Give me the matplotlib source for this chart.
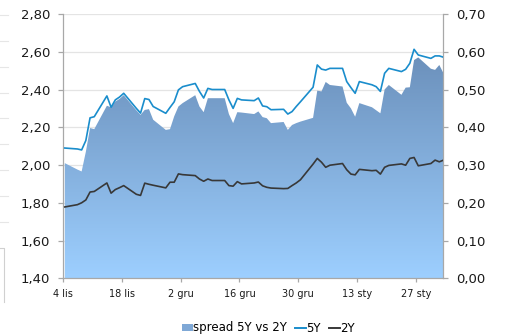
import matplotlib
matplotlib.use("Agg")
import matplotlib.pyplot as plt
import matplotlib.dates as mdates
import numpy as np
import pandas as pd
from matplotlib.colors import LinearSegmentedColormap
from matplotlib.lines import Line2D
from matplotlib.patches import Patch

# Quotation dates (working days, Nov 2016 - Feb 2017)
dates = [
    "2016-11-04", "2016-11-07", "2016-11-08", "2016-11-09", "2016-11-10", "2016-11-11",
    "2016-11-14", "2016-11-15", "2016-11-16", "2016-11-17", "2016-11-18",
    "2016-11-21", "2016-11-22", "2016-11-23", "2016-11-24", "2016-11-25",
    "2016-11-28", "2016-11-29", "2016-11-30", "2016-12-01", "2016-12-02",
    "2016-12-05", "2016-12-06", "2016-12-07", "2016-12-08", "2016-12-09",
    "2016-12-12", "2016-12-13", "2016-12-14", "2016-12-15", "2016-12-16",
    "2016-12-19", "2016-12-20", "2016-12-21", "2016-12-22", "2016-12-23",
    "2016-12-26", "2016-12-27", "2016-12-28", "2016-12-29", "2016-12-30",
    "2017-01-02", "2017-01-03", "2017-01-04", "2017-01-05", "2017-01-06",
    "2017-01-09", "2017-01-10", "2017-01-11", "2017-01-12", "2017-01-13",
    "2017-01-16", "2017-01-17", "2017-01-18", "2017-01-19", "2017-01-20",
    "2017-01-23", "2017-01-24", "2017-01-25", "2017-01-26", "2017-01-27",
    "2017-01-30", "2017-01-31", "2017-02-01", "2017-02-02",
]

# 5Y yield (left axis)
yield_5y = [
    2.090, 2.085, 2.080, 2.130, 2.250, 2.256,
    2.366, 2.306, 2.345, 2.360, 2.380,
    2.300, 2.275, 2.352, 2.347, 2.310,
    2.274, 2.305, 2.335, 2.398, 2.415,
    2.432, 2.390, 2.355, 2.406, 2.400,
    2.400, 2.345, 2.300, 2.353, 2.345,
    2.341, 2.355, 2.313, 2.309, 2.293,
    2.295, 2.270, 2.283, 2.310, 2.335,
    2.412, 2.530, 2.508, 2.503, 2.512,
    2.512, 2.442, 2.410, 2.380, 2.442,
    2.425, 2.415, 2.390, 2.486, 2.512,
    2.495, 2.507, 2.539, 2.613, 2.583,
    2.565, 2.578, 2.578, 2.571,
]

# 2Y yield (left axis)
yield_2y = [
    1.778, 1.790, 1.800, 1.815, 1.857, 1.860,
    1.905, 1.851, 1.870, 1.880, 1.891,
    1.845, 1.839, 1.904, 1.898, 1.893,
    1.879, 1.909, 1.909, 1.953, 1.949,
    1.944, 1.926, 1.914, 1.926, 1.918,
    1.918, 1.891, 1.888, 1.912, 1.900,
    1.905, 1.910, 1.890, 1.882, 1.878,
    1.875, 1.876, 1.891, 1.905, 1.922,
    2.005, 2.035, 2.015, 1.988, 1.999,
    2.008, 1.975, 1.952, 1.948, 1.977,
    1.970, 1.972, 1.952, 1.988, 1.998,
    2.006, 1.999, 2.035, 2.040, 1.996,
    2.008, 2.026, 2.017, 2.026,
]

# Spread 5Y vs 2Y (right axis)
spread = [
    0.305, 0.288, 0.283, 0.335, 0.398, 0.395,
    0.457, 0.453, 0.468, 0.475, 0.485,
    0.445, 0.433, 0.446, 0.448, 0.420,
    0.393, 0.395, 0.429, 0.455, 0.464,
    0.485, 0.455, 0.440, 0.477, 0.477,
    0.477, 0.435, 0.411, 0.440, 0.439,
    0.435, 0.442, 0.427, 0.424, 0.411,
    0.414, 0.393, 0.406, 0.411, 0.415,
    0.425, 0.497, 0.495, 0.520, 0.512,
    0.508, 0.465, 0.450, 0.428, 0.464,
    0.453, 0.445, 0.437, 0.500, 0.512,
    0.486, 0.505, 0.506, 0.578, 0.585,
    0.555, 0.552, 0.565, 0.543,
]

tick_dates = ["2016-11-04", "2016-11-18", "2016-12-02", "2016-12-16",
              "2016-12-30", "2017-01-13", "2017-01-27"]
tick_labels = ["4 lis", "18 lis", "2 gru", "16 gru", "30 gru", "13 sty", "27 sty"]
left_ticks = [1.40, 1.60, 1.80, 2.00, 2.20, 2.40, 2.60, 2.80]
right_ticks = [0.00, 0.10, 0.20, 0.30, 0.40, 0.50, 0.60, 0.70]

plt.rcParams["font.family"] = ["DejaVu Sans"]

W, H = 505, 335
fig = plt.figure(figsize=(W / 100, H / 100), dpi=100)
fig.patch.set_facecolor("white")

# Axis holding the spread area (right scale) sits underneath the yield lines
ax_r = fig.add_axes([62.7 / W, 1 - 278.3 / H, (443.3 - 62.7) / W, (278.3 - 14) / H])
ax_l = ax_r.twinx()

# Points sit in the middle of each day on the date axis
x = mdates.date2num(pd.to_datetime(dates)) + 0.5
x_min = mdates.date2num(pd.Timestamp(dates[0]))
x_max = mdates.date2num(pd.Timestamp(dates[-1])) + 0.45

grid_c = "#e4e4e4"
axis_c = "#a8a8a8"

# Spread area with vertical gradient
poly = ax_r.fill_between(x, spread, 0, facecolor="none", linewidth=0, zorder=2)
cmap = LinearSegmentedColormap.from_list("spread_grad", ["#9dcfff", "#6c91bc"])
grad = np.linspace(0, 1, 256).reshape(-1, 1)
img = ax_r.imshow(grad, cmap=cmap, aspect="auto", origin="lower",
                  extent=[x_min, x_max, 0, max(spread)], zorder=2,
                  interpolation="bilinear")
img.set_clip_path(poly.get_paths()[0], transform=ax_r.transData)

ax_r.set_xlim(x_min, x_max)
ax_r.set_ylim(0, 0.70)
ax_r.set_yticks(right_ticks)
ax_r.set_yticklabels([f"{v:.2f}".replace(".", ",") for v in right_ticks])
ax_r.yaxis.tick_right()
ax_r.grid(axis="y", color=grid_c, linewidth=0.9, zorder=0)
ax_r.set_axisbelow(True)

# Yield lines
ax_l.plot(x, yield_5y, color="#1a8dcc", linewidth=1.2, zorder=3)
ax_l.plot(x, yield_2y, color="#383838", linewidth=1.2, zorder=3)
ax_l.set_ylim(1.40, 2.80)
ax_l.set_yticks(left_ticks)
ax_l.set_yticklabels([f"{v:.2f}".replace(".", ",") for v in left_ticks])
ax_l.yaxis.tick_left()
ax_l.set_xlim(x_min, x_max)

ticks_x = mdates.date2num(pd.to_datetime(tick_dates))
ax_r.set_xticks(ticks_x)
ax_r.set_xticklabels(tick_labels)

ax_r.spines["top"].set_visible(False)
for s in ("left", "right", "bottom"):
    ax_r.spines[s].set_color(axis_c)
    ax_r.spines[s].set_linewidth(0.9)
for s in ax_l.spines.values():
    s.set_visible(False)

for a in (ax_r, ax_l):
    a.tick_params(axis="y", length=3.6, width=0.9, color=axis_c,
                  labelsize=9.5, pad=5.5, labelcolor="#1a1a1a")
ax_r.tick_params(axis="x", length=3.0, width=0.9, color=axis_c,
                 labelsize=7, pad=4.5, labelcolor="#1a1a1a")
ax_l.tick_params(axis="x", bottom=False, labelbottom=False)

# Legend below the chart
handles = [
    Patch(facecolor="#7fa8d6", edgecolor="none"),
    Line2D([], [], color="#1a8dcc", linewidth=1.4),
    Line2D([], [], color="#383838", linewidth=1.4),
]
labels = ["spread 5Y vs 2Y", "5Y", "2Y"]
fig.legend(handles, labels, loc="center", bbox_to_anchor=(268.5 / W, 1 - 328 / H),
           ncol=3, frameon=False, fontsize=8.5, handlelength=0.9, handleheight=0.6,
           handletextpad=0.05, columnspacing=0.7, borderaxespad=0, borderpad=0)

# Faint remains of a neighbouring panel at the left edge
for yy in (15, 41, 67, 93, 118, 144, 170, 196, 222):
    fig.add_artist(Line2D([0, 8 / W], [1 - yy / H, 1 - yy / H],
                          transform=fig.transFigure, color="#e6e6e6", linewidth=0.8))
fig.add_artist(Line2D([0, 4 / W, 4 / W], [1 - 248 / H, 1 - 248 / H, 1 - 302 / H],
                      transform=fig.transFigure, color="#d0d0d0", linewidth=0.8))

fig.savefig("out.png", dpi=100, facecolor="white")
